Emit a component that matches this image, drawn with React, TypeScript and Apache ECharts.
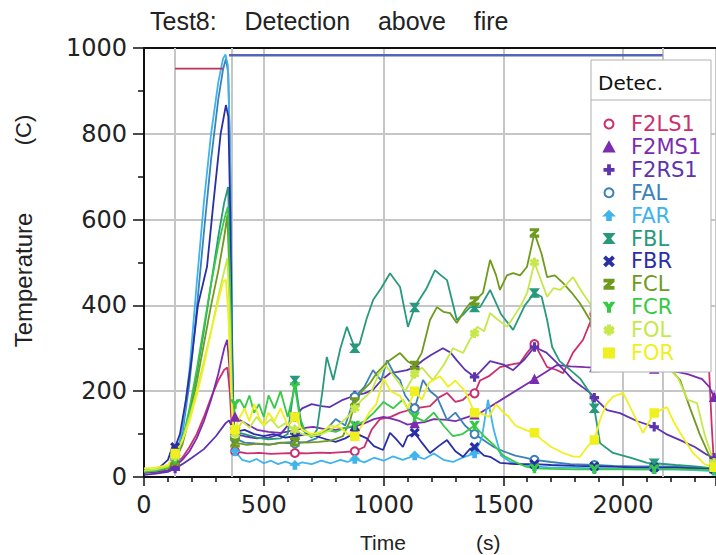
import React, { useEffect, useRef } from "react";
import * as echarts from "echarts";

// ---- data (time s, temperature C) ----
const markerTimes = [130, 380, 630, 880, 1130, 1380, 1630, 1880, 2130, 2380];
const eventTimes = [130, 367, 2167];

const F2LS1: [number, number][] = [[0,10],[50,12],[100,15],[130,28],[160,45],[190,70],[220,100],[250,140],[280,185],[310,225],[335,250],[348,255],[358,200],[366,120],[374,70],[380,60],[430,55],[480,56],[530,54],[580,55],[630,56],[680,55],[730,57],[780,56],[830,58],[880,60],[920,70],[950,110],[985,135],[1030,140],[1069,150],[1100,155],[1130,160],[1194,165],[1230,185],[1265,196],[1300,175],[1332,180],[1355,192],[1380,195],[1403,225],[1440,235],[1486,256],[1530,262],[1570,266],[1600,290],[1630,310],[1660,280],[1683,256],[1720,250],[1750,242],[1791,290],[1833,320],[1862,360],[1880,380],[1930,395],[1990,400],[2060,405],[2130,395],[2200,380],[2270,360],[2330,345],[2355,300],[2370,120],[2380,25]];
const F2MS1: [number, number][] = [[0,10],[50,12],[100,15],[130,25],[160,40],[190,60],[220,90],[250,130],[280,180],[310,240],[335,300],[347,320],[356,260],[364,190],[372,150],[380,140],[400,133],[440,120],[472,110],[520,105],[568,103],[600,106],[630,110],[680,115],[706,117],[750,112],[800,110],[850,115],[880,118],[920,125],[960,135],[1000,140],[1040,135],[1069,130],[1100,122],[1130,125],[1170,128],[1210,135],[1265,133],[1300,130],[1340,138],[1380,145],[1403,149],[1630,228],[1724,261],[1780,258],[1840,256],[1880,255],[1960,255],[2050,253],[2130,252],[2200,248],[2270,240],[2330,228],[2360,210],[2380,186]];
const F2RS1: [number, number][] = [[0,5],[50,8],[100,12],[130,20],[160,30],[200,45],[250,65],[300,95],[340,125],[355,132],[365,120],[372,110],[380,100],[420,95],[470,90],[520,92],[570,100],[630,140],[660,160],[700,170],[740,165],[776,163],[830,180],[880,190],[920,195],[956,203],[990,225],[1027,242],[1060,245],[1098,249],[1130,256],[1165,272],[1200,285],[1248,300],[1280,290],[1306,272],[1340,250],[1380,233],[1403,245],[1445,270],[1500,262],[1541,249],[1590,275],[1630,303],[1680,290],[1724,266],[1760,245],[1791,226],[1830,210],[1862,196],[1880,185],[1933,156],[1987,149],[2060,130],[2130,117],[2180,100],[2238,86],[2300,70],[2350,52],[2380,45]];
const FAL: [number, number][] = [[0,15],[50,18],[100,25],[130,45],[160,100],[190,220],[220,390],[250,570],[280,740],[310,880],[330,950],[342,975],[352,940],[360,720],[367,350],[374,130],[380,90],[420,80],[470,78],[520,75],[570,80],[630,78],[680,82],[720,90],[760,110],[800,135],[840,120],[880,187],[920,210],[956,249],[990,225],[1015,272],[1045,240],[1069,226],[1090,190],[1130,160],[1165,226],[1195,200],[1223,187],[1265,133],[1300,150],[1340,120],[1380,100],[1420,85],[1460,70],[1500,60],[1550,50],[1590,45],[1630,40],[1700,35],[1780,30],[1880,28],[1960,26],[2050,25],[2130,25],[2220,24],[2300,22],[2380,20]];
const FAR: [number, number][] = [[0,12],[50,15],[100,22],[130,40],[160,110],[190,250],[220,450],[250,640],[280,800],[310,920],[330,975],[340,985],[350,960],[358,800],[365,450],[372,120],[380,60],[410,40],[440,35],[470,42],[500,32],[530,38],[560,30],[590,36],[630,28],[660,34],[700,30],[740,38],[780,32],[820,40],[850,35],[880,42],[920,34],[960,45],[1000,38],[1040,48],[1080,40],[1130,50],[1170,42],[1210,55],[1250,40],[1290,35],[1330,45],[1380,55],[1410,90],[1436,180],[1460,110],[1490,50],[1530,35],[1580,28],[1630,25],[1700,22],[1780,22],[1880,20],[1960,20],[2050,18],[2130,18],[2220,18],[2300,16],[2380,14]];
const FBL: [number, number][] = [[0,12],[50,15],[100,20],[130,40],[160,80],[190,150],[220,240],[250,340],[280,450],[310,560],[335,640],[351,676],[360,500],[367,250],[374,120],[380,105],[420,100],[470,92],[520,88],[570,90],[600,100],[630,225],[660,110],[700,92],[722,110],[745,200],[763,280],[790,226],[820,300],[847,350],[880,300],[900,310],[930,370],[957,413],[990,440],[1027,475],[1069,443],[1102,350],[1130,395],[1140,405],[1180,440],[1215,482],[1240,470],[1265,459],[1306,366],[1335,380],[1361,396],[1380,395],[1403,396],[1445,436],[1490,380],[1541,343],[1590,400],[1630,429],[1660,420],[1683,366],[1704,303],[1735,270],[1766,256],[1820,230],[1862,196],[1880,160],[1904,79],[1958,56],[2030,45],[2100,33],[2130,32],[2220,28],[2300,25],[2380,20]];
const FBR: [number, number][] = [[0,10],[50,15],[100,40],[121,75],[130,70],[150,100],[175,180],[200,280],[225,400],[263,490],[290,640],[320,800],[342,867],[352,840],[360,620],[367,300],[374,130],[380,105],[420,110],[460,100],[500,95],[540,100],[590,92],[630,95],[680,100],[720,95],[760,88],[800,82],[840,90],[880,103],[930,90],[960,72],[998,63],[1027,103],[1050,90],[1081,70],[1100,95],[1130,103],[1160,80],[1194,56],[1230,72],[1265,86],[1300,60],[1332,47],[1360,65],[1380,70],[1420,50],[1445,47],[1486,33],[1550,30],[1630,30],[1700,28],[1800,26],[1880,25],[1960,24],[2050,22],[2130,22],[2220,22],[2300,20],[2380,18]];
const FCL: [number, number][] = [[0,12],[50,15],[100,20],[130,38],[160,75],[190,140],[220,220],[250,310],[280,400],[310,480],[335,560],[348,610],[358,450],[366,220],[374,100],[380,80],[430,75],[480,78],[530,76],[580,80],[630,82],[680,80],[730,82],[780,85],[830,95],[860,130],[880,175],[910,200],[944,219],[971,242],[1020,270],[1069,289],[1100,270],[1130,260],[1160,290],[1194,366],[1223,396],[1250,385],[1278,382],[1306,359],[1340,390],[1361,405],[1380,410],[1415,429],[1445,506],[1470,470],[1486,436],[1515,470],[1541,475],[1570,470],[1599,490],[1630,569],[1660,520],[1683,466],[1715,470],[1750,452],[1785,430],[1820,405],[1862,366],[1880,360],[1930,340],[1990,320],[2060,300],[2130,280],[2200,250],[2238,226],[2280,160],[2320,100],[2360,50],[2380,30]];
const FCR: [number, number][] = [[0,12],[50,15],[100,22],[130,42],[160,85],[190,160],[220,250],[250,350],[280,450],[310,540],[335,600],[350,630],[360,450],[367,230],[374,130],[380,170],[400,180],[420,160],[440,190],[460,150],[480,170],[500,140],[520,190],[545,160],[570,200],[600,140],[630,210],[650,140],[670,110],[700,95],[730,100],[760,110],[800,105],[840,115],[880,120],[920,130],[960,150],[1000,175],[1040,160],[1080,180],[1110,150],[1130,140],[1170,130],[1210,150],[1250,120],[1290,95],[1330,100],[1380,120],[1420,95],[1460,75],[1500,50],[1550,35],[1590,25],[1630,20],[1700,19],[1800,18],[1880,18],[1960,18],[2050,18],[2130,18],[2220,18],[2300,17],[2380,16]];
const FOL: [number, number][] = [[0,15],[50,18],[100,25],[130,48],[160,85],[190,140],[220,200],[250,270],[280,340],[310,420],[335,480],[348,510],[358,380],[366,200],[374,110],[380,100],[410,130],[440,115],[470,140],[500,120],[530,135],[560,115],[590,125],[630,110],[660,100],[700,95],[740,100],[780,110],[820,125],[850,140],[880,160],[910,180],[950,200],[980,240],[1010,260],[1050,230],[1090,200],[1130,240],[1160,255],[1206,226],[1250,260],[1290,300],[1332,289],[1360,320],[1380,335],[1390,350],[1420,340],[1445,382],[1470,370],[1516,350],[1545,375],[1570,396],[1600,430],[1630,500],[1683,420],[1710,440],[1737,436],[1765,450],[1791,466],[1830,430],[1880,390],[1930,350],[1980,320],[2030,300],[2080,290],[2130,280],[2180,260],[2230,230],[2270,180],[2309,172],[2340,100],[2380,33]];
const FOR: [number, number][] = [[0,20],[50,22],[100,28],[130,55],[160,85],[190,130],[220,190],[250,260],[280,340],[310,410],[330,455],[342,460],[352,380],[362,220],[370,130],[380,110],[400,140],[420,160],[440,130],[460,170],[480,140],[500,120],[520,150],[545,130],[570,160],[600,120],[630,140],[660,110],[700,100],[740,105],[780,120],[820,115],[850,100],[880,95],[910,120],[940,150],[970,170],[1000,230],[1030,200],[1069,189],[1100,160],[1130,200],[1160,180],[1190,220],[1236,235],[1270,210],[1300,225],[1340,200],[1380,150],[1403,149],[1440,140],[1470,170],[1500,150],[1520,142],[1550,120],[1591,110],[1630,103],[1662,86],[1700,70],[1750,56],[1790,48],[1820,47],[1850,70],[1880,86],[1904,133],[1930,170],[1958,187],[2000,196],[2042,149],[2083,103],[2110,130],[2130,149],[2183,163],[2210,130],[2238,103],[2292,56],[2340,30],[2380,23]];

// saturated / reference lines at the top of the plot
const topBlueLine: [number, number][] = [[355, 983], [2165, 983]];
const topRedLine: [number, number][] = [[130, 952], [330, 952]];

const seriesNames = ["F2LS1", "F2MS1", "F2RS1", "FAL", "FAR", "FBL", "FBR", "FCL", "FCR", "FOL", "FOR"];
const seriesData = [F2LS1, F2MS1, F2RS1, FAL, FAR, FBL, FBR, FCL, FCR, FOL, FOR];
const seriesColors = ["#cc2f6e", "#7b2db0", "#5e33b0", "#3b82b8", "#3fb4ec", "#279a7c", "#2a2fa6", "#6f9a1e", "#35c944", "#c6e84a", "#f0f020"];
const seriesSymbols = [
  "emptyCircle",
  "triangle",
  "path://M4,0H6V4H10V6H6V10H4V6H0V4H4Z",
  "emptyCircle",
  "path://M5,0L10,5H7V10H3V5H0Z",
  "path://M0,0H10L6,5L10,10H0L4,5Z",
  "path://M0,1.5L1.5,0L5,3.5L8.5,0L10,1.5L6.5,5L10,8.5L8.5,10L5,6.5L1.5,10L0,8.5L3.5,5Z",
  "path://M0,0H10V2L3,8H10V10H0V8L7,2H0Z",
  "path://M0,0H2.5L5,4L7.5,0H10L6.2,5.5V10H3.8V5.5Z",
  "path://M4,0H6V3.3L8.9,1.6L9.9,3.3L7,5L9.9,6.7L8.9,8.4L6,6.7V10H4V6.7L1.1,8.4L0.1,6.7L3,5L0.1,3.3L1.1,1.6L4,3.3Z",
  "rect",
];

const xTickMax = 2388;

export default function App() {
  const ref = useRef<HTMLDivElement>(null);

  useEffect(() => {
    if (!ref.current) return;
    const chart = echarts.init(ref.current, undefined, { renderer: "svg" });
    const axisColor = "#111";
    const gridColor = "#c6c6c6";
    const numFont = "DejaVu Sans";
    const txtFont = "Liberation Sans";
    const plain = (v: number) => String(v);

    const series: any[] = seriesNames.map((name, i) => ({
      name,
      type: "line",
      data: seriesData[i],
      symbol: seriesSymbols[i],
      symbolSize: (v: number[]) => (markerTimes.includes(v[0]) ? 8 : 0),
      showSymbol: true,
      lineStyle: { color: seriesColors[i], width: 1.8 },
      itemStyle: { color: seriesColors[i], borderColor: seriesColors[i], borderWidth: 1.5 },
      emphasis: { disabled: true },
      silent: true,
      z: 3,
    }));

    series.push({
      name: "top",
      type: "line",
      data: topBlueLine,
      symbol: "none",
      lineStyle: { color: "#5566b8", width: 2.5 },
      silent: true,
      z: 3,
      markLine: {
        silent: true,
        symbol: "none",
        label: { show: false },
        lineStyle: { color: gridColor, width: 2, type: "solid" },
        data: eventTimes.map((t) => ({ xAxis: t })),
        z: 1,
      },
    });
    series.push({
      name: "topRed",
      type: "line",
      data: topRedLine,
      symbol: "none",
      lineStyle: { color: "#c0305a", width: 1.8 },
      silent: true,
      z: 3,
    });

    chart.setOption({
      animation: false,
      backgroundColor: "#ffffff",
      grid: { left: 144, right: 0, top: 48, bottom: 78 },
      xAxis: [
        {
          type: "value",
          min: 0,
          max: xTickMax,
          interval: 500,
          axisLine: { lineStyle: { color: axisColor, width: 2 } },
          axisTick: { length: 9, lineStyle: { color: axisColor, width: 1.5 } },
          minorTick: { show: true, splitNumber: 5, length: 5, lineStyle: { color: axisColor, width: 1.5 } },
          axisLabel: { fontSize: 24, fontFamily: numFont, color: "#222", margin: 16, showMaxLabel: false, formatter: plain },
          splitLine: { show: true, lineStyle: { color: gridColor, width: 2 } },
        },
        {
          type: "value",
          position: "top",
          min: 0,
          max: xTickMax,
          axisLine: { show: true, onZero: false, lineStyle: { color: axisColor, width: 2 } },
          axisTick: { show: false },
          axisLabel: { show: false },
          splitLine: { show: false },
        },
      ],
      yAxis: {
        type: "value",
        min: 0,
        max: 1000,
        interval: 200,
        axisLine: { show: true, lineStyle: { color: axisColor, width: 2 } },
        axisTick: { show: true, length: 11, lineStyle: { color: axisColor, width: 1.5 } },
        minorTick: { show: true, splitNumber: 2, length: 6, lineStyle: { color: axisColor, width: 1.5 } },
        axisLabel: { fontSize: 24, fontFamily: numFont, color: "#222", margin: 17, formatter: plain },
        splitLine: { show: true, lineStyle: { color: gridColor, width: 2 } },
      },
      legend: {
        show: true,
        orient: "vertical",
        left: 603,
        top: 113,
        padding: 0,
        itemWidth: 10,
        itemHeight: 9,
        itemGap: 0.9,
        selectedMode: false,
        z: 20,
        textStyle: { fontSize: 21, fontFamily: numFont, lineHeight: 22, padding: [0, 0, 0, 12] },
        data: seriesNames.map((n, i) => ({
          name: n,
          icon: seriesSymbols[i],
          textStyle: { color: seriesColors[i] },
        })),
      },
      graphic: [
        {
          type: "text",
          x: 150,
          y: 21,
          z: 30,
          style: {
            text: "Test8:    Detection    above    fire",
            fill: "#222",
            font: `25px "${txtFont}"`,
            textAlign: "left",
            textVerticalAlign: "middle",
          },
        },
        {
          type: "text",
          x: 23,
          y: 280,
          rotation: Math.PI / 2,
          z: 30,
          style: { text: "Temperature", fill: "#222", font: `24px "${txtFont}"`, textAlign: "center", textVerticalAlign: "middle" },
        },
        {
          type: "text",
          x: 23,
          y: 130,
          rotation: Math.PI / 2,
          z: 30,
          style: { text: "(C)", fill: "#222", font: `22px "${txtFont}"`, textAlign: "center", textVerticalAlign: "middle" },
        },
        {
          type: "text",
          x: 360,
          y: 542,
          z: 30,
          style: { text: "Time", fill: "#222", font: `21px "${txtFont}"`, textAlign: "left", textVerticalAlign: "middle" },
        },
        {
          type: "text",
          x: 476,
          y: 542,
          z: 30,
          style: { text: "(s)", fill: "#222", font: `21px "${txtFont}"`, textAlign: "left", textVerticalAlign: "middle" },
        },
        {
          type: "rect",
          z: 10,
          shape: { x: 591, y: 60, width: 120, height: 312 },
          style: { fill: "#ffffff", stroke: "#b0b0b0", lineWidth: 1 },
        },
        {
          type: "line",
          z: 11,
          shape: { x1: 591, y1: 100, x2: 711, y2: 100 },
          style: { stroke: "#b0b0b0", lineWidth: 1 },
        },
        {
          type: "text",
          x: 598,
          y: 83,
          z: 12,
          style: { text: "Detec.", fill: "#111", font: `20px "${numFont}"`, textAlign: "left", textVerticalAlign: "middle" },
        },
      ],
      series,
    });

    return () => chart.dispose();
  }, []);

  return (
    <div
      ref={ref}
      style={{ position: "fixed", left: 0, top: 0, width: 716, height: 555, background: "#fff" }}
    />
  );
}
